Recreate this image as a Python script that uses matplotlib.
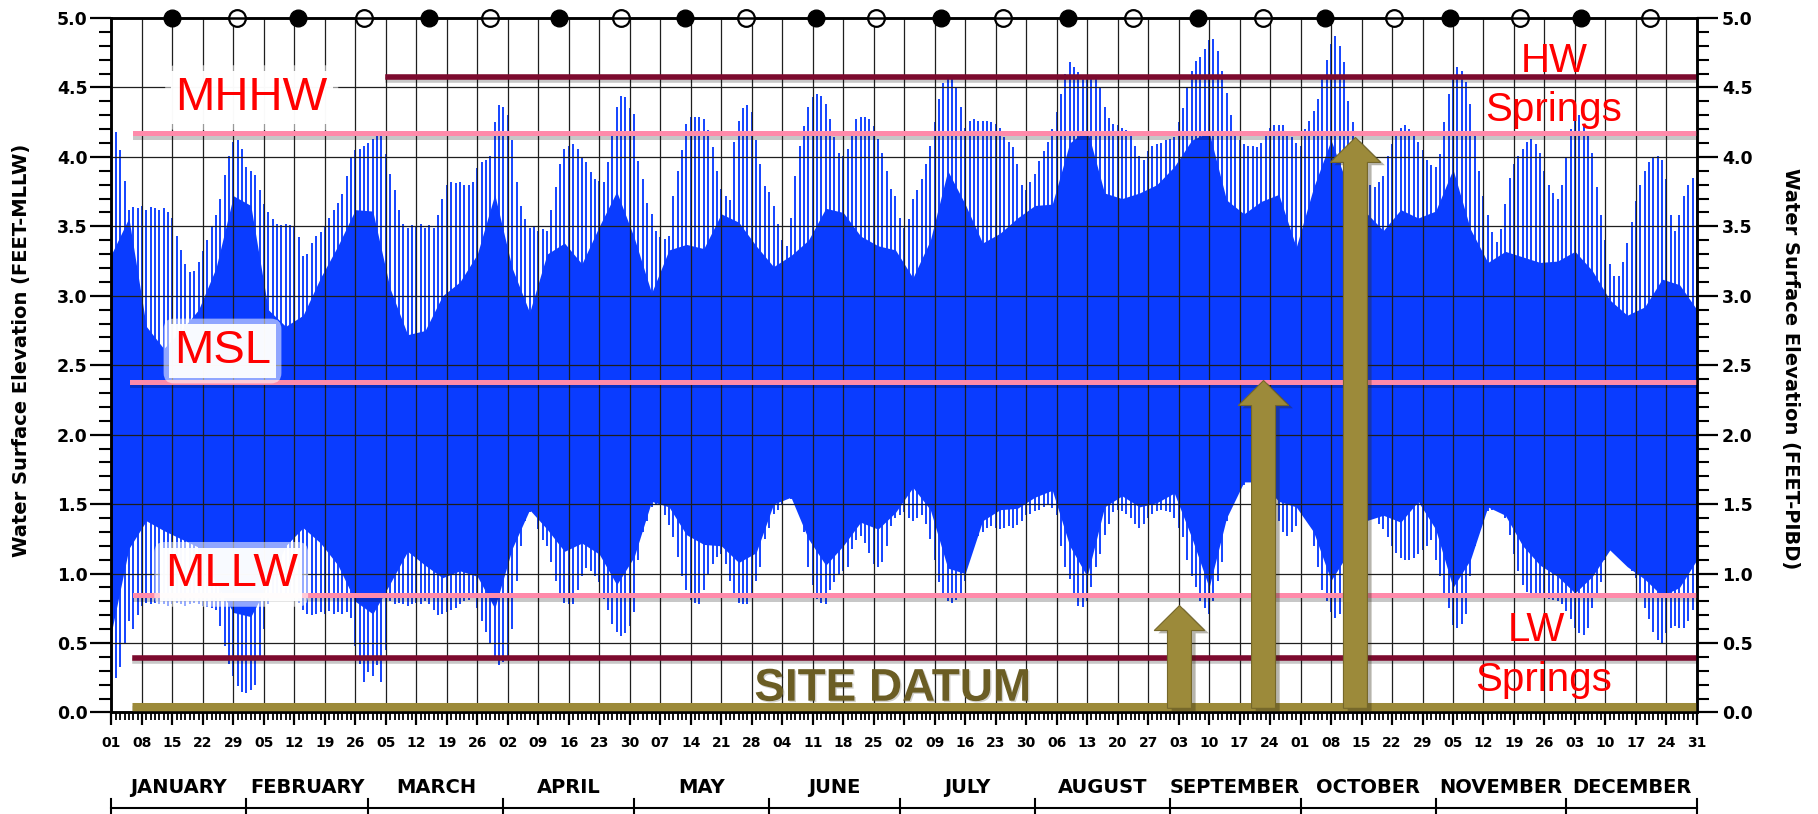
import datetime
import numpy as np
import matplotlib
matplotlib.use("Agg")
import matplotlib.pyplot as plt
import matplotlib.patheffects as pe
from matplotlib.patches import FancyArrow
from matplotlib.ticker import MultipleLocator
from matplotlib.transforms import blended_transform_factory

# ---------------------------------------------------------------
# data (feet, MLLW)
# daily higher-high water, one list per month
# ---------------------------------------------------------------
hh_jan = [4.21, 4.18, 4.05, 3.83, 3.62, 3.64, 3.63, 3.65, 3.62, 3.64, 3.63, 3.62, 3.63, 3.60, 3.56, 3.43,
          3.33, 3.23, 3.17, 3.18, 3.24, 3.32, 3.40, 3.50, 3.58, 3.70, 3.87, 4.01, 4.11, 4.12, 4.06]
hh_feb = [3.93, 3.90, 3.87, 3.76, 3.66, 3.60, 3.55, 3.52, 3.51, 3.52, 3.51, 3.50, 3.42, 3.29,
          3.30, 3.38, 3.43, 3.46, 3.50, 3.56, 3.62, 3.67, 3.73, 3.86, 4.00, 4.05, 4.06, 4.08]
hh_mar = [4.10, 4.13, 4.15, 4.16, 4.02, 3.88, 3.76, 3.62, 3.52, 3.49, 3.51, 3.50, 3.52, 3.49, 3.51, 3.49,
          3.58, 3.70, 3.80, 3.82, 3.81, 3.82, 3.80, 3.80, 3.82, 3.92, 3.96, 3.98, 4.01, 4.25, 4.37]
hh_apr = [4.36, 4.30, 4.12, 3.82, 3.65, 3.55, 3.49, 3.50, 3.47, 3.48, 3.47, 3.62, 3.78, 3.95, 4.06,
          4.08, 4.09, 4.06, 4.00, 3.96, 3.89, 3.84, 3.83, 3.82, 3.96, 4.18, 4.36, 4.44, 4.43, 4.35]
hh_may = [4.31, 3.97, 3.84, 3.67, 3.59, 3.47, 3.42, 3.41, 3.43, 3.72, 3.90, 4.05, 4.24, 4.29, 4.29, 4.29,
          4.27, 4.19, 4.07, 3.90, 3.77, 3.72, 3.69, 4.11, 4.26, 4.35, 4.37, 4.32, 4.12, 3.95, 3.79]
hh_jun = [3.75, 3.65, 3.52, 3.40, 3.36, 3.56, 3.86, 4.08, 4.22, 4.36, 4.43, 4.45, 4.44, 4.38, 4.27,
          4.14, 4.03, 4.01, 4.06, 4.16, 4.27, 4.29, 4.29, 4.27, 4.22, 4.13, 4.03, 3.90, 3.77, 3.72]
hh_jul = [3.56, 3.49, 3.55, 3.70, 3.76, 3.84, 3.95, 4.08, 4.25, 4.42, 4.53, 4.57, 4.56, 4.50, 4.36, 4.21,
          4.26, 4.27, 4.26, 4.26, 4.26, 4.25, 4.24, 4.21, 4.14, 4.11, 4.07, 3.95, 3.80, 3.76, 3.82]
hh_aug = [3.88, 3.97, 4.04, 4.11, 4.20, 4.32, 4.45, 4.60, 4.68, 4.65, 4.61, 4.58, 4.57, 4.57, 4.56, 4.50,
          4.36, 4.28, 4.24, 4.23, 4.21, 4.19, 4.15, 4.08, 4.01, 3.98, 4.04, 4.08, 4.09, 4.10, 4.12]
hh_sep = [4.13, 4.14, 4.25, 4.35, 4.50, 4.62, 4.69, 4.72, 4.78, 4.84, 4.85, 4.76, 4.62, 4.46, 4.30,
          4.18, 4.12, 4.09, 4.08, 4.08, 4.07, 4.10, 4.17, 4.21, 4.23, 4.23, 4.23, 4.18, 4.14, 4.10]
hh_oct = [4.08, 4.20, 4.26, 4.33, 4.42, 4.58, 4.70, 4.81, 4.87, 4.80, 4.68, 4.40, 4.25, 4.12, 4.00, 3.90,
          3.80, 3.78, 3.82, 3.86, 4.01, 4.09, 4.18, 4.21, 4.23, 4.20, 4.15, 4.11, 4.05, 3.98, 3.94]
hh_nov = [3.93, 4.02, 4.25, 4.45, 4.57, 4.65, 4.62, 4.54, 4.38, 4.15, 3.90, 3.72, 3.58, 3.46, 3.39,
          3.48, 3.66, 3.85, 3.95, 4.01, 4.06, 4.11, 4.13, 4.09, 4.03, 3.90, 3.80, 3.74, 3.70, 3.80]
hh_dec = [4.00, 4.20, 4.30, 4.30, 4.24, 4.16, 4.03, 3.78, 3.58, 3.40, 3.23, 3.14, 3.14, 3.24, 3.38, 3.53,
          3.68, 3.80, 3.90, 3.96, 3.99, 4.01, 3.98, 3.84, 3.58, 3.47, 3.58, 3.72, 3.80, 3.85, 3.76]

# daily lower-low water
ll_jan = [0.42, 0.25, 0.33, 0.50, 0.66, 0.60, 0.70, 0.77, 0.79, 0.78, 0.79, 0.78, 0.78, 0.77, 0.78, 0.79,
          0.78, 0.77, 0.78, 0.79, 0.78, 0.77, 0.76, 0.75, 0.74, 0.62, 0.48, 0.35, 0.26, 0.19, 0.15]
ll_feb = [0.14, 0.16, 0.20, 0.40, 0.60, 0.78, 0.83, 0.85, 0.86, 0.86, 0.85, 0.84, 0.79, 0.74,
          0.71, 0.70, 0.71, 0.72, 0.71, 0.73, 0.71, 0.72, 0.71, 0.72, 0.68, 0.48, 0.35, 0.22]
ll_mar = [0.29, 0.26, 0.34, 0.22, 0.45, 0.80, 0.78, 0.79, 0.78, 0.77, 0.78, 0.79, 0.78, 0.80, 0.78, 0.74,
          0.70, 0.71, 0.72, 0.74, 0.75, 0.78, 0.80, 0.81, 0.85, 0.75, 0.66, 0.58, 0.50, 0.38, 0.34]
ll_apr = [0.36, 0.38, 0.60, 0.95, 1.20, 1.38, 1.44, 1.46, 1.32, 1.24, 1.20, 1.08, 0.95, 0.84, 0.79,
          0.78, 0.78, 0.88, 0.98, 1.04, 1.02, 0.98, 0.94, 0.82, 0.74, 0.64, 0.58, 0.55, 0.57, 0.62]
ll_may = [0.72, 1.10, 1.30, 1.38, 1.48, 1.50, 1.50, 1.42, 1.35, 1.26, 1.12, 0.98, 0.88, 0.81, 0.79, 0.78,
          0.88, 1.00, 1.07, 1.12, 1.14, 1.07, 0.95, 0.84, 0.79, 0.78, 0.78, 0.86, 0.95, 1.05, 1.25]
ll_jun = [1.33, 1.43, 1.46, 1.50, 1.56, 1.54, 1.50, 1.44, 1.30, 1.05, 0.92, 0.82, 0.79, 0.78, 0.88,
          0.94, 0.99, 1.02, 1.05, 1.18, 1.24, 1.27, 1.22, 1.15, 1.07, 1.05, 1.08, 1.20, 1.34, 1.40]
ll_jul = [1.42, 1.44, 1.40, 1.38, 1.40, 1.42, 1.36, 1.25, 1.10, 0.94, 0.84, 0.80, 0.79, 0.81, 0.84, 0.95,
          1.12, 1.20, 1.27, 1.30, 1.33, 1.34, 1.33, 1.32, 1.33, 1.34, 1.33, 1.35, 1.38, 1.42, 1.43]
ll_aug = [1.45, 1.46, 1.48, 1.50, 1.47, 1.42, 1.20, 1.05, 0.96, 0.85, 0.77, 0.76, 0.80, 0.90, 1.05, 1.14,
          1.28, 1.36, 1.44, 1.46, 1.45, 1.43, 1.40, 1.36, 1.33, 1.36, 1.40, 1.43, 1.45, 1.46, 1.45]
ll_sep = [1.44, 1.40, 1.33, 1.26, 1.10, 0.98, 0.90, 0.80, 0.75, 0.71, 0.80, 0.95, 1.08, 1.38, 1.48,
          1.56, 1.62, 1.64, 1.66, 1.66, 1.65, 1.63, 1.58, 1.52, 1.46, 1.38, 1.30, 1.27, 1.30, 1.34]
ll_oct = [1.46, 1.42, 1.37, 1.20, 1.05, 0.88, 0.80, 0.72, 0.68, 0.71, 0.80, 0.90, 1.05, 1.20, 1.32, 1.40,
          1.45, 1.42, 1.36, 1.32, 1.26, 1.20, 1.15, 1.11, 1.10, 1.10, 1.11, 1.14, 1.17, 1.20, 1.24]
ll_nov = [1.10, 0.98, 0.85, 0.75, 0.63, 0.61, 0.64, 0.71, 0.98, 1.20, 1.32, 1.42, 1.45, 1.46, 1.46,
          1.44, 1.40, 1.28, 1.14, 1.02, 0.92, 0.87, 0.84, 0.84, 0.84, 0.83, 0.82, 0.81, 0.80, 0.78]
ll_dec = [0.73, 0.67, 0.61, 0.57, 0.56, 0.61, 0.75, 0.84, 0.94, 1.10, 1.20, 1.28, 1.26, 1.18, 1.10, 1.02,
          0.97, 0.84, 0.75, 0.67, 0.58, 0.52, 0.50, 0.57, 0.61, 0.62, 0.61, 0.61, 0.66, 0.74, 0.84]

# solid core of the trace (lower high / higher low), read every 4 days
core_top = [3.30, 3.56, 2.78, 2.62, 2.75, 2.90, 3.20, 3.72, 3.65, 2.90, 2.78, 2.86, 3.13, 3.36, 3.62, 3.61,
            3.05, 2.72, 2.75, 3.00, 3.10, 3.30, 3.73,
            3.20, 2.88, 3.30, 3.38, 3.23, 3.50, 3.75, 3.42, 3.02, 3.33, 3.37, 3.34, 3.59, 3.53, 3.36, 3.21,
            3.29, 3.40, 3.63, 3.60, 3.43, 3.36, 3.33,
            3.13, 3.40, 3.90, 3.66, 3.38, 3.45, 3.56, 3.65, 3.66, 4.10, 4.20, 3.74, 3.70, 3.74, 3.80, 3.93,
            4.12, 4.18, 3.69, 3.59, 3.68, 3.73, 3.35,
            3.78, 4.12, 3.78, 3.60, 3.47, 3.62, 3.56, 3.61, 3.91, 3.48, 3.24, 3.32, 3.28, 3.24, 3.25, 3.32,
            3.18, 2.97, 2.86, 2.92, 3.12, 3.08, 2.90]
core_bot = [0.58, 1.18, 1.38, 1.31, 1.25, 1.19, 0.93, 0.72, 0.69, 0.93, 1.20, 1.33, 1.22, 1.06, 0.80, 0.71,
            0.93, 1.16, 1.06, 0.97, 1.02, 0.98, 0.75,
            1.18, 1.46, 1.32, 1.16, 1.22, 1.14, 0.92, 1.12, 1.52, 1.48, 1.28, 1.21, 1.20, 1.08, 1.15, 1.50,
            1.55, 1.25, 1.06, 1.20, 1.37, 1.32, 1.44,
            1.62, 1.46, 1.04, 1.00, 1.38, 1.46, 1.47, 1.55, 1.60, 1.20, 0.98, 1.48, 1.56, 1.48, 1.51, 1.58,
            1.26, 0.90, 1.40, 1.66, 1.66, 1.52, 1.48,
            1.30, 0.95, 1.15, 1.38, 1.42, 1.37, 1.52, 1.32, 0.90, 1.10, 1.48, 1.42, 1.20, 1.06, 0.98, 0.86,
            0.98, 1.17, 1.05, 0.96, 0.84, 0.90, 1.10]

# moon phases (day of year, 0 = Jan 01)
new_moon = [13.9, 42.8, 72.8, 102.8, 131.6, 161.7, 190.5, 219.5, 249.4, 278.5, 307.2, 337.3]
full_moon = [28.8, 57.9, 86.8, 116.9, 145.6, 175.6, 204.7, 234.5, 264.4, 294.4, 323.4, 353.3]

# tidal datums
mhhw = 4.17
msl = 2.38
mllw = 0.845
hw_springs = 4.575
lw_springs = 0.395
site_datum = 0.043

# arrows measuring up from the site datum
arrow_days = [245.2, 264.5, 285.6]
arrow_tops = [0.77, 2.39, 4.14]

month_names = ["JANUARY", "FEBRUARY", "MARCH", "APRIL", "MAY", "JUNE",
               "JULY", "AUGUST", "SEPTEMBER", "OCTOBER", "NOVEMBER", "DECEMBER"]
month_len = [31, 28, 31, 30, 31, 30, 31, 31, 30, 31, 30, 31]

BLUE = "#0a3cff"
PINK = "#ff8aaa"
MAROON = "#7c0a2e"
OLIVE = "#9c8a3a"
OLIVE_DARK = "#6b5d24"

plt.rcParams["font.family"] = ["DejaVu Sans"]
plt.rcParams["font.weight"] = "bold"

hh = np.array(hh_jan + hh_feb + hh_mar + hh_apr + hh_may + hh_jun +
              hh_jul + hh_aug + hh_sep + hh_oct + hh_nov + hh_dec)
ll = np.array(ll_jan + ll_feb + ll_mar + ll_apr + ll_may + ll_jun +
              ll_jul + ll_aug + ll_sep + ll_oct + ll_nov + ll_dec)
days = np.arange(len(hh))
core_days = np.arange(0, 365, 4)

fig = plt.figure(figsize=(18.18, 8.14), dpi=100)
ax = fig.add_axes([0.0613, 0.1247, 0.8721, 0.8532])

# tide trace
ax.fill_between(core_days, core_bot, core_top, color=BLUE, lw=0, zorder=1)
ax.vlines(days, ll, hh, color=BLUE, lw=1.35, zorder=1)

ax.set_xlim(0, 364)
ax.set_ylim(0, 5)

# -----------------------
#   axes, ticks, grid
# -----------------------
ax.xaxis.set_major_locator(MultipleLocator(7))
ax.xaxis.set_minor_locator(MultipleLocator(1))
ax.yaxis.set_major_locator(MultipleLocator(0.5))
ax.yaxis.set_minor_locator(MultipleLocator(0.1))
ax.set_axisbelow(False)
ax.grid(which="major", color="#1e1e1e", lw=0.9)

jan1 = datetime.date(2010, 1, 1)
xlabels = ["%02d" % (jan1 + datetime.timedelta(days=int(d))).day for d in range(0, 365, 7)]
ax.set_xticks(range(0, 365, 7))
ax.set_xticklabels(xlabels, fontsize=10, family=["Liberation Sans Narrow", "DejaVu Sans"])
ax.tick_params(axis="x", which="major", length=9, width=1.6, pad=8, direction="out")
ax.tick_params(axis="x", which="minor", length=6, width=1.3, direction="out")
ax.tick_params(axis="y", which="major", length=15, width=1.6, pad=2, labelsize=12.5)
ax.tick_params(axis="y", which="minor", length=8.5, width=1.5)
ax.set_yticks(np.arange(0, 5.01, 0.5))
ax.set_yticklabels(["%.1f" % v for v in np.arange(0, 5.01, 0.5)])
for s in ax.spines.values():
    s.set_linewidth(1.8)

ax.set_ylabel("Water Surface Elevation (FEET-MLLW)", fontsize=14, fontweight="bold")
ax.yaxis.set_label_coords(-0.0505, 0.522)

ax2 = ax.twinx()
ax2.set_ylim(0, 5)
ax2.yaxis.set_major_locator(MultipleLocator(0.5))
ax2.yaxis.set_minor_locator(MultipleLocator(0.1))
ax2.set_yticks(np.arange(0, 5.01, 0.5))
ax2.set_yticklabels(["%.1f" % v for v in np.arange(0, 5.01, 0.5)])
ax2.tick_params(axis="y", which="major", length=15, width=1.6, pad=3, labelsize=12.5)
ax2.tick_params(axis="y", which="minor", length=8.5, width=1.5)
for s in ax2.spines.values():
    s.set_linewidth(1.8)
ax2.set_ylabel("Water Surface Elevation (FEET-PIBD)", fontsize=14, fontweight="bold",
               rotation=270, va="bottom")
ax2.yaxis.set_label_coords(1.053, 0.495)

# moon phases along the top
ax.plot(new_moon, [5.0] * len(new_moon), "o", ms=12, color="black", clip_on=False, zorder=6)
ax.plot(full_moon, [5.0] * len(full_moon), "o", ms=12, mfc="white", mec="black", mew=1.6,
        clip_on=False, zorder=6)

# -----------------------
#   datum lines
# -----------------------
shadow = [pe.SimpleLineShadow(offset=(0, -2.5), shadow_color="black", alpha=0.22), pe.Normal()]
ax.plot([63.5, 364], [hw_springs] * 2, color=MAROON, lw=4, zorder=3, path_effects=shadow)
ax.plot([5.5, 364], [mhhw] * 2, color=PINK, lw=3.6, zorder=3, path_effects=shadow)
ax.plot([4.7, 364], [msl] * 2, color=PINK, lw=3.6, zorder=3, path_effects=shadow)
ax.plot([5.5, 364], [mllw] * 2, color=PINK, lw=3.6, zorder=3, path_effects=shadow)
ax.plot([5.5, 364], [lw_springs] * 2, color=MAROON, lw=4, zorder=3, path_effects=shadow)
ax.plot([4.7, 364], [site_datum] * 2, color=OLIVE, lw=6.5, zorder=3, solid_capstyle="butt",
        path_effects=shadow)

# arrows
for xd, top in zip(arrow_days, arrow_tops):
    arr = FancyArrow(xd, 0.03, 0, top - 0.03, width=5.5, head_width=11.6, head_length=0.18,
                     length_includes_head=True, fc=OLIVE, ec="#75672a", lw=0.8, zorder=4)
    arr.set_path_effects([pe.SimplePatchShadow(offset=(3, -2), alpha=0.35), pe.Normal()])
    ax.add_patch(arr)

# -----------------------
#   datum labels
# -----------------------
red_font = ["Liberation Sans", "DejaVu Sans"]


def boxed_label(x, y, txt):
    ax.text(x, y, txt, fontsize=34, color="none", ha="center", va="baseline", family=red_font,
            fontweight="normal", zorder=5,
            bbox=dict(boxstyle="round,pad=0.22", fc="white", ec="none", alpha=0.55))
    ax.text(x, y, txt, fontsize=34, color="red", ha="center", va="baseline", family=red_font,
            fontweight="normal", zorder=5,
            bbox=dict(boxstyle="square,pad=0.1", fc="white", ec="none", alpha=0.95))


boxed_label(32.2, 4.34, "MHHW")
boxed_label(25.5, 2.516, "MSL")
boxed_label(27.5, 0.908, "MLLW")

for x, y, txt in [(331.2, 4.61, "HW"), (331.1, 4.26, "Springs"),
                  (327.2, 0.516, "LW"), (328.8, 0.157, "Springs")]:
    ax.text(x, y, txt, fontsize=29, color="red", ha="center", va="baseline", family=red_font,
            fontweight="normal", zorder=5)

ax.text(179.4, 0.085, "SITE DATUM", fontsize=33, color=OLIVE_DARK, ha="center", va="baseline",
        family=red_font, fontweight="bold", zorder=5,
        path_effects=[pe.withSimplePatchShadow(offset=(1, -1), alpha=0.2)])

# -----------------------
#   month bracket
# -----------------------
trans = blended_transform_factory(ax.transData, ax.transAxes)
bounds = np.concatenate([[0], np.cumsum(month_len)])
bounds[-1] = 364
ax.plot([0, 364], [-0.1375, -0.1375], color="black", lw=1.5, transform=trans, clip_on=False)
for b in bounds:
    ax.plot([b, b], [-0.124, -0.152], color="black", lw=1.5, transform=trans, clip_on=False)
for i, name in enumerate(month_names):
    ax.text((bounds[i] + bounds[i + 1]) / 2, -0.108, name, transform=trans, ha="center",
            va="center", fontsize=14, family=["Liberation Sans Narrow", "DejaVu Sans"])

fig.savefig("out.png", dpi=100)
